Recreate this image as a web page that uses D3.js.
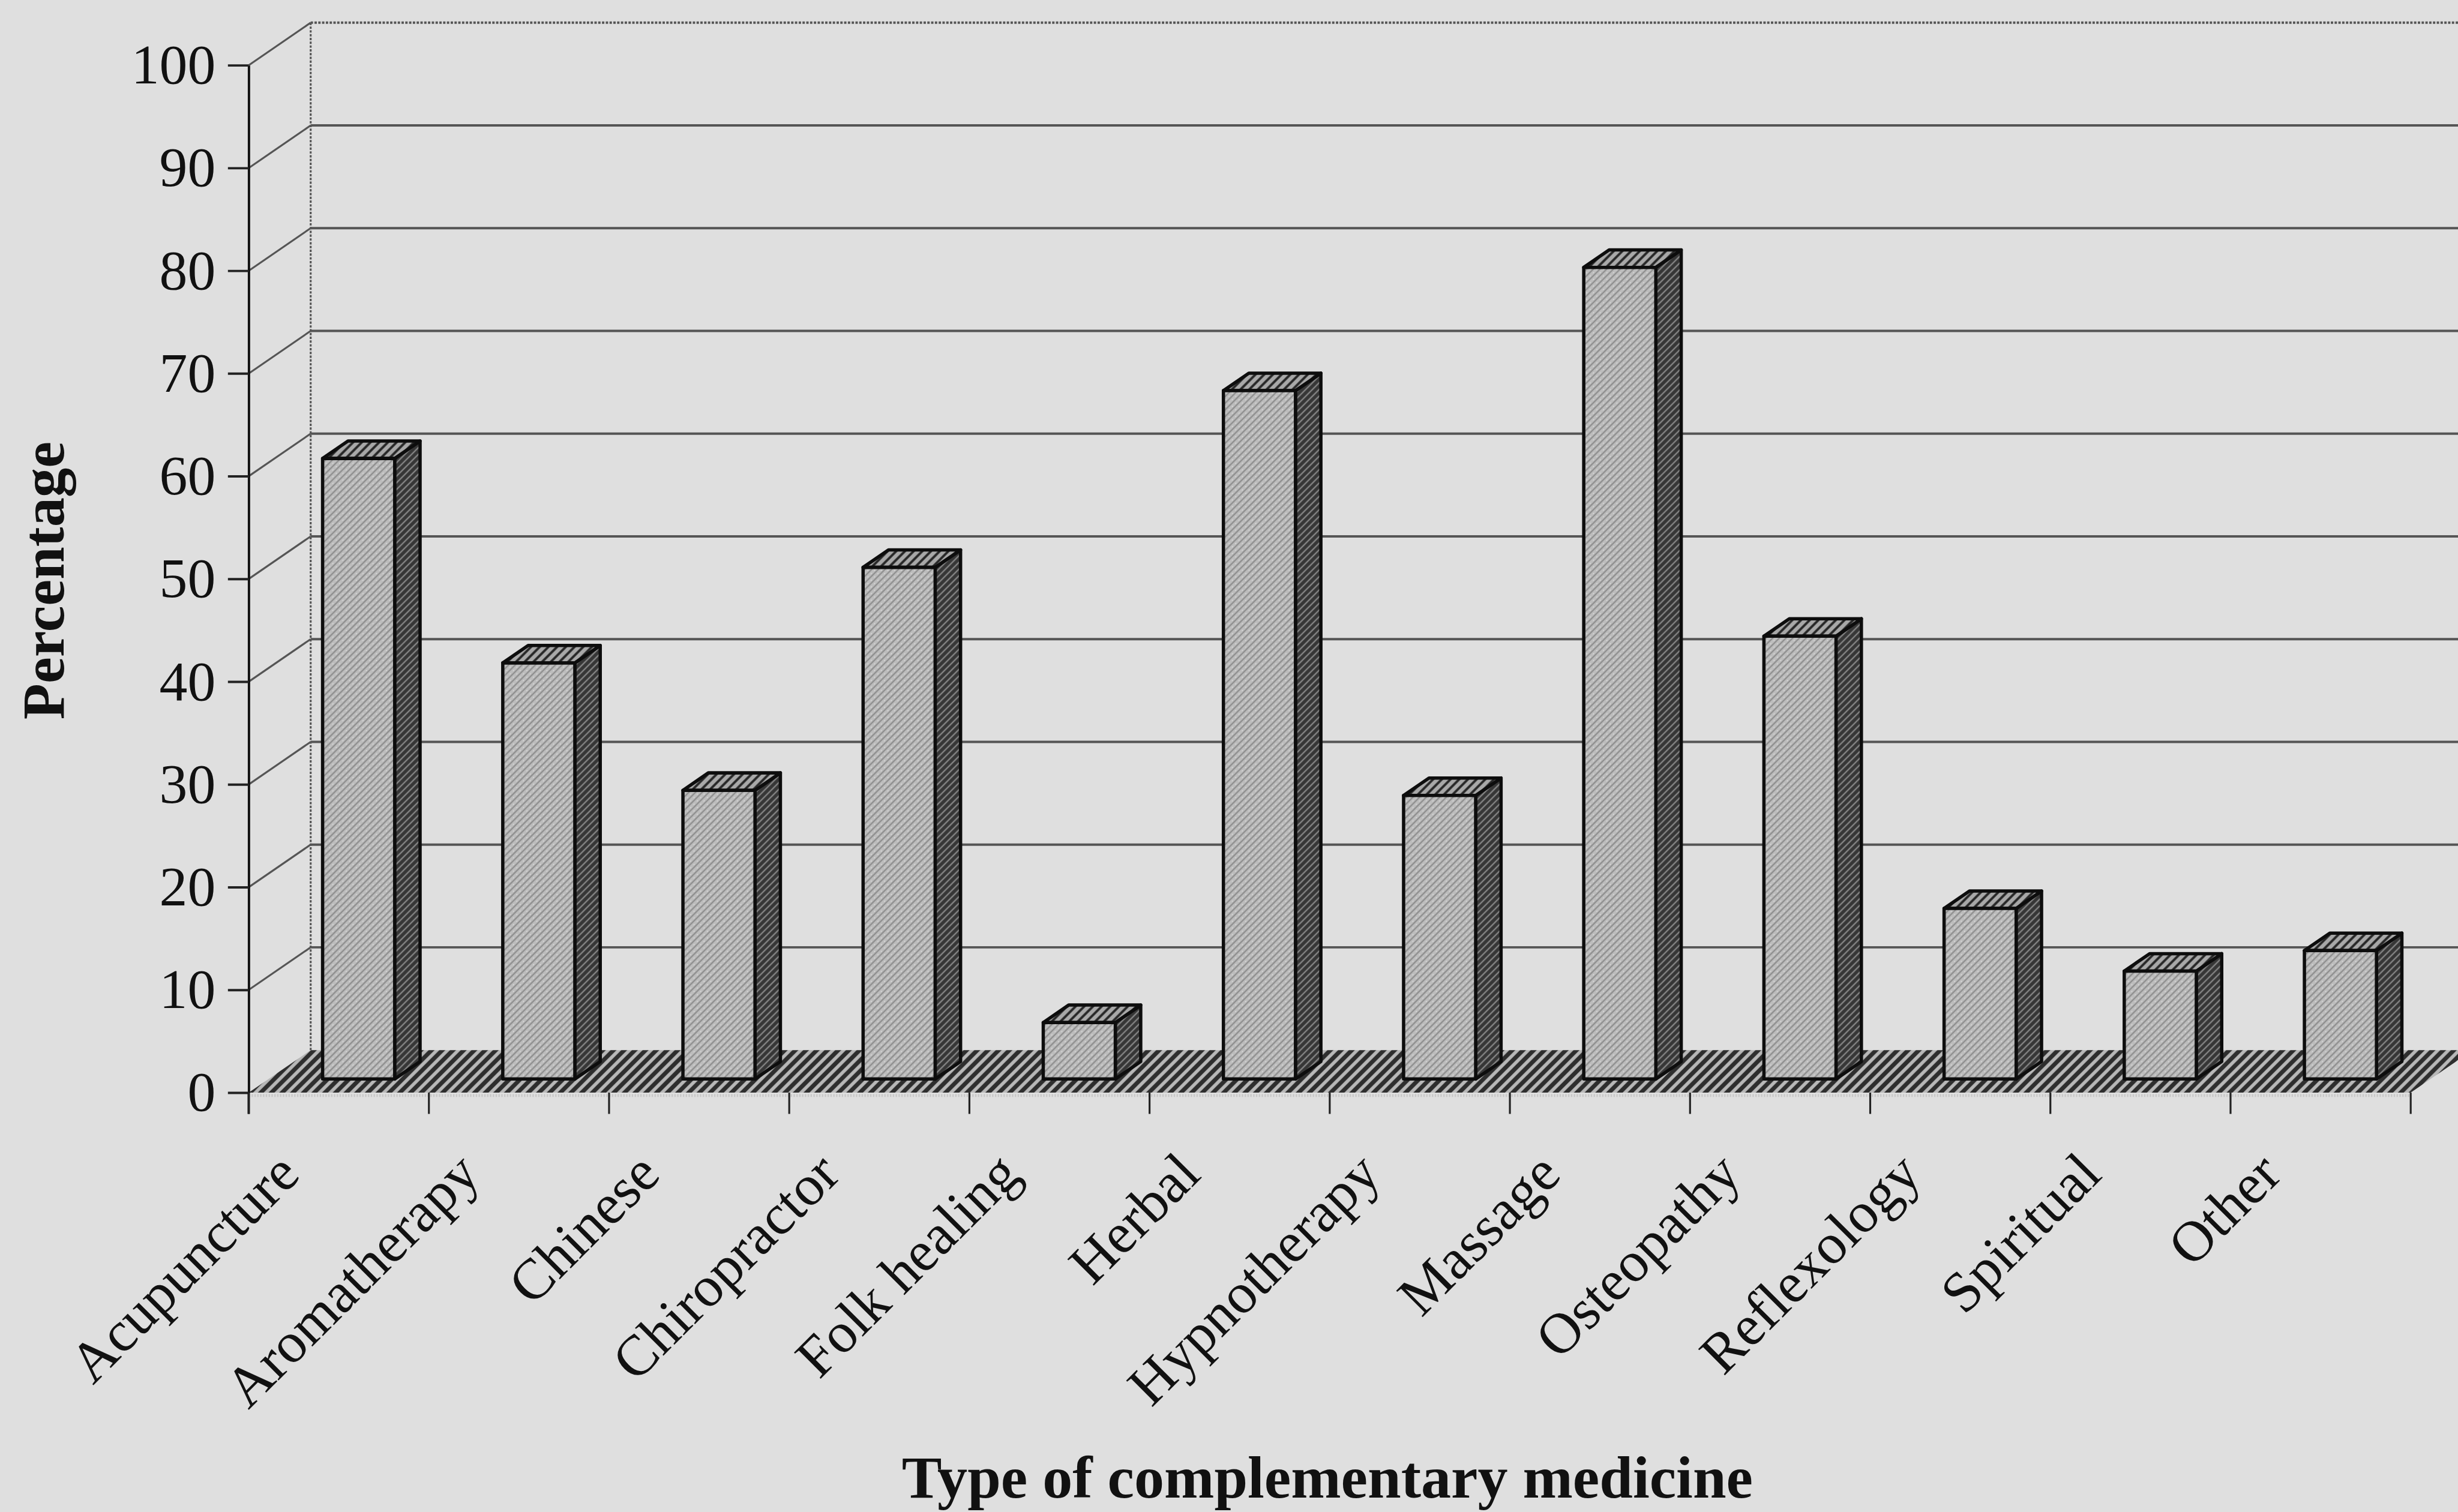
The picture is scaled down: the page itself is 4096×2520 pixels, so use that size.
<!DOCTYPE html>
<html>
<head>
<meta charset="utf-8">
<script src="https://cdn.jsdelivr.net/npm/d3@7/dist/d3.min.js"></script>
<style>
  html, body { margin: 0; padding: 0; background: #dfdfdf; }
  svg { display: block; }
  text { font-family: "Liberation Serif", "Times New Roman", serif; fill: #111; }
</style>
</head>
<body>
<div id="chart"></div>
<script>
// Share of respondents who had used each type of complementary medicine
const categories = ["Acupuncture", "Aromatherapy", "Chinese", "Chiropractor", "Folk healing",
  "Herbal", "Hypnotherapy", "Massage", "Osteopathy", "Reflexology", "Spiritual", "Other"];
const percentages = [60.4, 40.5, 28.1, 49.8, 5.5, 67.0, 27.6, 79.0, 43.1, 16.6, 10.5, 12.5];
const yTicks = [0, 10, 20, 30, 40, 50, 60, 70, 80, 90, 100];
const yTitle = "Percentage";
const xTitle = "Type of complementary medicine";

// drawing space (scaled down to the window through the viewBox)
const W = 5198, H = 3198;
const svg = d3.select("#chart").append("svg")
  .attr("width", 4096).attr("height", 2520)
  .attr("viewBox", `0 0 ${W} ${H}`);

const left = 526, right = 5098, baseY = 2311, topY = 138;
const DX = 131, DY = 90;            // projected depth of the plot box
const zFront = 0.32, zBack = 0.73;  // depth slice occupied by the columns

const x = d3.scaleBand().domain(categories).range([left, right]).padding(0);
const y = d3.scaleLinear().domain([0, 100]).range([baseY, topY]);
const bw = x.bandwidth();
const colW = bw * 0.4;

// patterns
const defs = svg.append("defs");
function hatch(id, bg, fg, gap, lw, angle) {
  const p = defs.append("pattern").attr("id", id)
    .attr("patternUnits", "userSpaceOnUse")
    .attr("width", gap).attr("height", gap)
    .attr("patternTransform", `rotate(${angle})`);
  p.append("rect").attr("width", gap).attr("height", gap).attr("fill", bg);
  p.append("line").attr("x1", gap / 2).attr("y1", -1).attr("x2", gap / 2).attr("y2", gap + 1)
    .attr("stroke", fg).attr("stroke-width", lw);
}
hatch("floorHatch", "#b8b8b8", "#2e2e2e", 16, 9, 45);
hatch("topHatch", "#a8a8a8", "#262626", 13, 5, 45);
hatch("sideHatch", "#363636", "#858585", 10, 3, 45);
// front face: light halftone with faint diagonal texture
const fp = defs.append("pattern").attr("id", "frontTex")
  .attr("patternUnits", "userSpaceOnUse").attr("width", 10).attr("height", 10)
  .attr("patternTransform", "rotate(45)");
fp.append("rect").attr("width", 10).attr("height", 10).attr("fill", "#bdbdbd");
fp.append("line").attr("x1", 5).attr("y1", -1).attr("x2", 5).attr("y2", 11)
  .attr("stroke", "#8e8e8e").attr("stroke-width", 3);
fp.append("circle").attr("cx", 0).attr("cy", 5).attr("r", 1.6).attr("fill", "#e2e2e2");

svg.append("rect").attr("width", W).attr("height", H).attr("fill", "#dfdfdf");

const g = svg.append("g");
const gridColor = "#555";

// back-wall and side-wall gridlines
yTicks.filter(v => v > 0 && v < 100).forEach(v => {
  g.append("line")
    .attr("x1", left + DX).attr("y1", y(v) - DY).attr("x2", right + DX).attr("y2", y(v) - DY)
    .attr("stroke", gridColor).attr("stroke-width", 5);
  g.append("line")
    .attr("x1", left).attr("y1", y(v)).attr("x2", left + DX).attr("y2", y(v) - DY)
    .attr("stroke", gridColor).attr("stroke-width", 4);
});

// wall outline: solid side top edge, dotted back edges
g.append("line").attr("x1", left).attr("y1", y(100)).attr("x2", left + DX).attr("y2", y(100) - DY)
  .attr("stroke", "#555").attr("stroke-width", 4);
g.append("line").attr("x1", left + DX).attr("y1", y(100) - DY).attr("x2", right + DX).attr("y2", y(100) - DY)
  .attr("stroke", "#555").attr("stroke-width", 5).attr("stroke-dasharray", "5,3");
g.append("line").attr("x1", left + DX).attr("y1", y(100) - DY).attr("x2", left + DX).attr("y2", y(0) - DY)
  .attr("stroke", "#555").attr("stroke-width", 4).attr("stroke-dasharray", "5,3");

// floor
g.append("path")
  .attr("d", `M${left},${baseY} L${right},${baseY} L${right + DX},${baseY - DY} L${left + DX},${baseY - DY} Z`)
  .attr("fill", "url(#floorHatch)");
g.append("line").attr("x1", left).attr("y1", baseY + 6).attr("x2", right).attr("y2", baseY + 6)
  .attr("stroke", "#c8c8c8").attr("stroke-width", 6).attr("stroke-dasharray", "3,3");

// columns
const ox = DX * zFront, oy = DY * zFront;
const dx = DX * (zBack - zFront), dy = DY * (zBack - zFront);
const bars = g.selectAll("g.col").data(categories.map((c, i) => ({ c, v: percentages[i] })))
  .join("g").attr("class", "col");
bars.each(function (d) {
  const s = d3.select(this);
  const x0 = x(d.c) + (bw - colW) / 2 + ox, x1 = x0 + colW;
  const yb = y(0) - oy, yt = y(d.v) - oy;
  const sty = sel => sel.attr("stroke", "#0d0d0d").attr("stroke-width", 7).attr("stroke-linejoin", "round");
  s.append("path").attr("d", `M${x1},${yt} L${x1 + dx},${yt - dy} L${x1 + dx},${yb - dy} L${x1},${yb} Z`)
    .attr("fill", "url(#sideHatch)").call(sty);
  s.append("path").attr("d", `M${x0},${yt} L${x0 + dx},${yt - dy} L${x1 + dx},${yt - dy} L${x1},${yt} Z`)
    .attr("fill", "url(#topHatch)").call(sty);
  s.append("rect").attr("x", x0).attr("y", yt).attr("width", colW).attr("height", yb - yt)
    .attr("fill", "url(#frontTex)").call(sty);
});

// value axis
const yAxis = g.append("g").attr("transform", `translate(${left},0)`)
  .call(d3.axisLeft(y).tickValues(yTicks).tickSize(44).tickSizeOuter(0).tickPadding(26));
yAxis.select(".domain").attr("stroke", "#111").attr("stroke-width", 5);
yAxis.selectAll(".tick line").attr("stroke", "#222").attr("stroke-width", 5);
yAxis.selectAll(".tick text").attr("font-size", 119).attr("fill", "#111")
  .attr("font-family", "Liberation Serif, Times New Roman, serif");
g.append("line").attr("x1", left).attr("y1", baseY).attr("x2", left).attr("y2", baseY + 45)
  .attr("stroke", "#111").attr("stroke-width", 5);

// category axis: ticks at band boundaries
const bounds = d3.range(categories.length + 1).map(i => left + i * x.step());
g.selectAll("line.ctick").data(bounds).join("line").attr("class", "ctick")
  .attr("x1", d => d).attr("x2", d => d).attr("y1", baseY).attr("y2", baseY + 45)
  .attr("stroke", "#222").attr("stroke-width", 4);

g.selectAll("text.cat").data(categories).join("text").attr("class", "cat")
  .attr("transform", c => `translate(${x(c) + bw / 2 - 78},${baseY + 178}) rotate(-45)`)
  .attr("text-anchor", "end").attr("font-size", 121)
  .text(c => c);

// titles
svg.append("text").attr("transform", "translate(134,1228) rotate(-90)")
  .attr("text-anchor", "middle").attr("font-size", 125).attr("font-weight", "bold")
  .text(yTitle);
svg.append("text").attr("x", 2807).attr("y", 3168)
  .attr("text-anchor", "middle").attr("font-size", 127).attr("font-weight", "bold")
  .text(xTitle);
</script>
</body>
</html>
